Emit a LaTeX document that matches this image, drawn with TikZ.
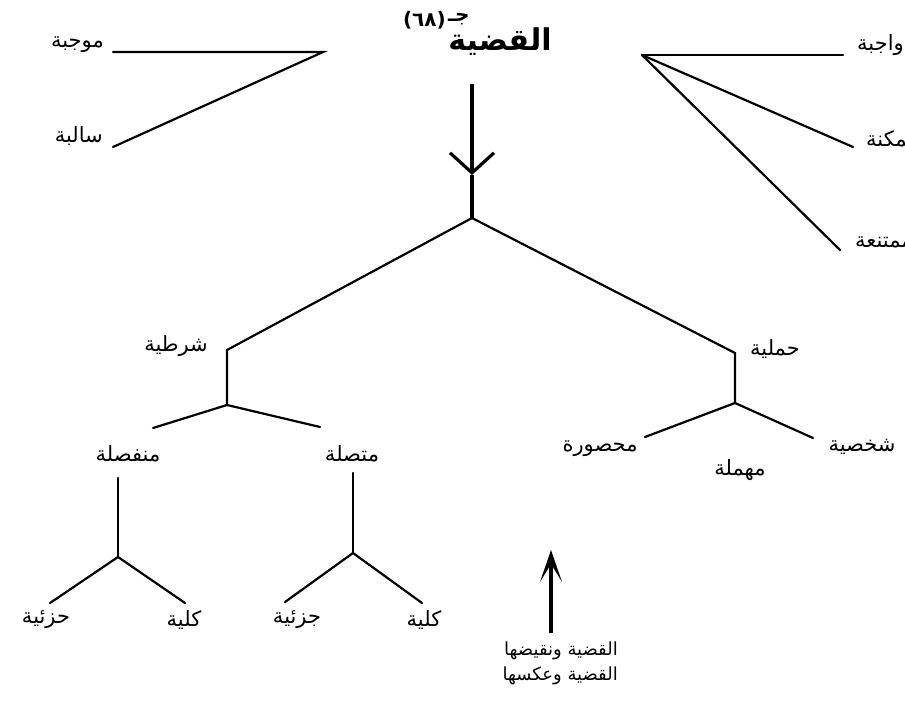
\documentclass[tikz,border=0pt]{standalone}
\usepackage{fontspec}
\TeXXeTstate=1
\newfontfamily\arabicfont[Script=Arabic]{DejaVu Sans}
\usetikzlibrary{arrows.meta}
\tikzset{
  lbl/.style={font=\arabicfont\fontsize{21}{24}\selectfont, inner sep=0pt},
  btm/.style={font=\arabicfont\fontsize{18}{21}\selectfont, inner sep=0pt},
  ttl/.style={font=\arabicfont\bfseries\fontsize{30}{34}\selectfont, inner sep=0pt},
  suptxt/.style={font=\arabicfont\bfseries\fontsize{20}{23}\selectfont, inner sep=0pt},
  ln/.style={line width=2.2pt, line cap=round},
  thickln/.style={line width=3.2pt},
}
\begin{document}
\begin{tikzpicture}[x=1pt,y=-1pt]
\useasboundingbox (0,0) rectangle (905,706);
% title
\node[ttl] (T) at (500,42) {\beginR القضية\endR};
\node[suptxt,anchor=east] (S1) at (446,20) {(٦٨)};
\node[suptxt,anchor=west] (S2) at ([xshift=2pt,yshift=1pt]S1.east) {\beginR جـ\endR};
% left pair
\coordinate (L0) at (323,52);
\coordinate (L1) at (113,52);
\coordinate (L2) at (113,147);
\node[lbl,anchor=east] (mujaba) at (104,45) {\beginR موجبة\endR};
\node[lbl,anchor=east] (saliba) at (103,136) {\beginR سالبة\endR};
\draw[ln] (L1) -- (L0) -- (L2);
% right triple
\coordinate (R0) at (642,55);
\coordinate (R1) at (843,55);
\coordinate (R2) at (853,147);
\coordinate (R3) at (840,250);
\draw[ln] (R0) -- (R1);
\draw[ln] (R0) -- (R2);
\draw[ln] (R0) -- (R3);
\node[lbl,anchor=west] (wajiba) at (857,45) {\beginR واجبة\endR};
\node[lbl,anchor=west] (mumkina) at (866,139) {\beginR ممكنة\endR};
\node[lbl,anchor=west] (mumtaniea) at (855,242) {\beginR ممتنعة\endR};
% main arrow
\coordinate (Atop) at (472,84);
\coordinate (V) at (472,175);
\coordinate (A) at (472,218);
\draw[thickln,-{Straight Barb[length=20pt,width=44pt]}] (Atop) -- (V);
\draw[thickln] (V) -- (A);
% main tree
\coordinate (P1) at (227,350);
\coordinate (Q1) at (227,405);
\coordinate (P2) at (735,353);
\coordinate (Q2) at (735,403);
\draw[ln] (A) -- (P1) -- (Q1);
\draw[ln] (A) -- (P2) -- (Q2);
\coordinate (Q1a) at (153,428);
\coordinate (Q1b) at (320,427);
\draw[ln] (Q1a) -- (Q1) -- (Q1b);
\coordinate (Q2a) at (645,437);
\coordinate (Q2b) at (813,438);
\draw[ln] (Q2a) -- (Q2) -- (Q2b);
\node[lbl] (shartiya) at (176,346) {\beginR شرطية\endR};
\node[lbl] (hamliya) at (775,349) {\beginR حملية\endR};
\node[lbl] (munfasila) at (128,454) {\beginR منفصلة\endR};
\node[lbl] (muttasila) at (352,454) {\beginR متصلة\endR};
\node[lbl] (mahsura) at (600,449) {\beginR محصورة\endR};
\node[lbl] (muhmala) at (740,470) {\beginR مهملة\endR};
\node[lbl] (shakhsiya) at (862,447) {\beginR شخصية\endR};
% lower-left tree
\coordinate (Q3t) at (118,478);
\coordinate (Q3) at (118,557);
\coordinate (Q3a) at (50,603);
\coordinate (Q3b) at (185,603);
\draw[ln] (Q3t) -- (Q3);
\draw[ln] (Q3a) -- (Q3) -- (Q3b);
% lower-right tree
\coordinate (Q4t) at (353,473);
\coordinate (Q4) at (353,553);
\coordinate (Q4a) at (285,602);
\coordinate (Q4b) at (422,603);
\draw[ln] (Q4t) -- (Q4);
\draw[ln] (Q4a) -- (Q4) -- (Q4b);
\node[lbl] (juz1) at (46,620) {\beginR حزئية\endR};
\node[lbl] (kul1) at (184,620) {\beginR كلية\endR};
\node[lbl] (juz2) at (297,620) {\beginR جزئية\endR};
\node[lbl] (kul2) at (424,620) {\beginR كلية\endR};
% bottom arrow
\coordinate (B0) at (551,633);
\coordinate (B1) at (551,550);
\draw[thickln,-{Stealth[length=32pt,width=22pt,inset=18pt]}] (B0) -- (B1);
\node[btm,anchor=east] (naqid) at (618,651) {\beginR القضية ونقيضها\endR};
\node[btm,anchor=east] (aks) at (618,676) {\beginR القضية وعكسها\endR};
\end{tikzpicture}
\end{document}
